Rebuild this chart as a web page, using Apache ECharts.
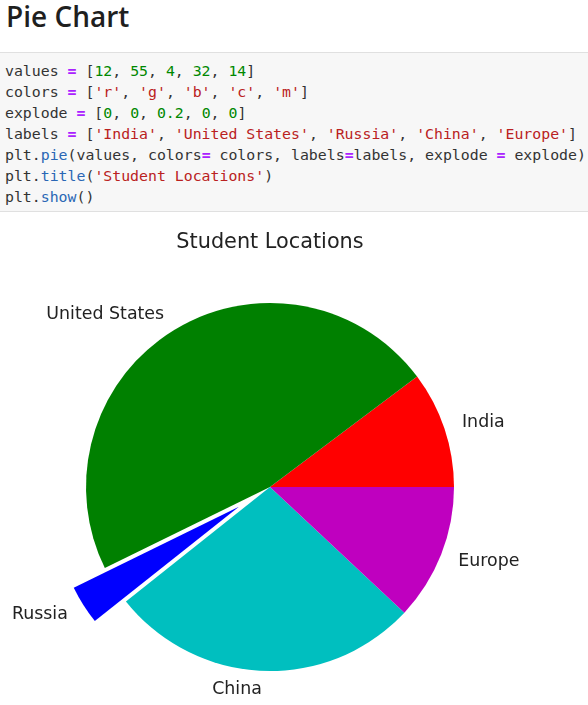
<!DOCTYPE html>
<html>
<head>
<meta charset="utf-8">
<script src="https://cdn.jsdelivr.net/npm/echarts@6/dist/echarts.min.js"></script>
<style>
  html, body { margin: 0; padding: 0; background: #fff; width: 588px; height: 705px; overflow: hidden; }
  #heading { position: absolute; left: 6px; top: -3px; margin: 0; font-family: "Open Sans", "Noto Sans", sans-serif; font-weight: 600; font-size: 28px; color: #1f1f1f; }
  #code { position: absolute; left: 0; top: 52px; width: 588px; height: 160px; box-sizing: border-box; background: #f7f7f7; border-top: 1px solid #e0e0e0; border-bottom: 1px solid #e0e0e0; padding: 8px 0 0 5px; font-family: "DejaVu Sans Mono", "Liberation Mono", monospace; font-size: 14.85px; line-height: 21px; color: #333; white-space: pre; }
  .o { color: #aa22ff; font-weight: bold; }
  .n { color: #008800; }
  .s { color: #ba2121; }
  .f { color: #2a67b5; }
  #chart { position: absolute; left: 0; top: 215px; width: 588px; height: 490px; }
</style>
</head>
<body>
<h1 id="heading">Pie Chart</h1>
<div id="code">values <span class="o">=</span> [<span class="n">12</span>, <span class="n">55</span>, <span class="n">4</span>, <span class="n">32</span>, <span class="n">14</span>]
colors <span class="o">=</span> [<span class="s">'r'</span>, <span class="s">'g'</span>, <span class="s">'b'</span>, <span class="s">'c'</span>, <span class="s">'m'</span>]
explode <span class="o">=</span> [<span class="n">0</span>, <span class="n">0</span>, <span class="n">0.2</span>, <span class="n">0</span>, <span class="n">0</span>]
labels <span class="o">=</span> [<span class="s">'India'</span>, <span class="s">'United States'</span>, <span class="s">'Russia'</span>, <span class="s">'China'</span>, <span class="s">'Europe'</span>]
plt.<span class="f">pie</span>(values, colors<span class="o">=</span> colors, labels<span class="o">=</span>labels, explode <span class="o">=</span> explode)
plt.<span class="f">title</span>(<span class="s">'Student Locations'</span>)
plt.<span class="f">show</span>()</div>
<div id="chart"></div>
<script>
const values = [12, 55, 4, 32, 14];
const labels = ['India', 'United States', 'Russia', 'China', 'Europe'];
const colors = ['#ff0000', '#008000', '#0000ff', '#00bfbf', '#bf00bf'];
const explode = [0, 0, 0.2, 0, 0];
const chartTitle = 'Student Locations';

const R = 184;
const chart = echarts.init(document.getElementById('chart'), null, { renderer: 'canvas' });
chart.setOption({
  animation: false,
  title: {
    text: chartTitle,
    left: 270,
    textAlign: 'center',
    top: 17,
    padding: 0,
    textStyle: { fontFamily: 'DejaVu Sans', fontSize: 20.8, fontWeight: 'normal', color: '#222' }
  },
  series: [{
    type: 'pie',
    center: [270, 272],
    radius: [0, R],
    startAngle: 0,
    clockwise: false,
    avoidLabelOverlap: false,
    selectedMode: 'multiple',
    selectedOffset: 0.2 * R,
    emphasis: { disabled: true },
    itemStyle: { borderWidth: 0 },
    label: {
      show: true,
      position: 'outside',
      fontFamily: 'DejaVu Sans',
      fontSize: 17.4,
      color: '#222',
      padding: [4, 0, 0, 0],
      distanceToLabelLine: 0
    },
    labelLine: { show: false, length: 0.1 * R, length2: 0 },
    data: values.map((v, i) => ({
      value: v,
      name: labels[i],
      selected: explode[i] > 0,
      itemStyle: { color: colors[i] }
    }))
  }]
});
</script>
</body>
</html>
